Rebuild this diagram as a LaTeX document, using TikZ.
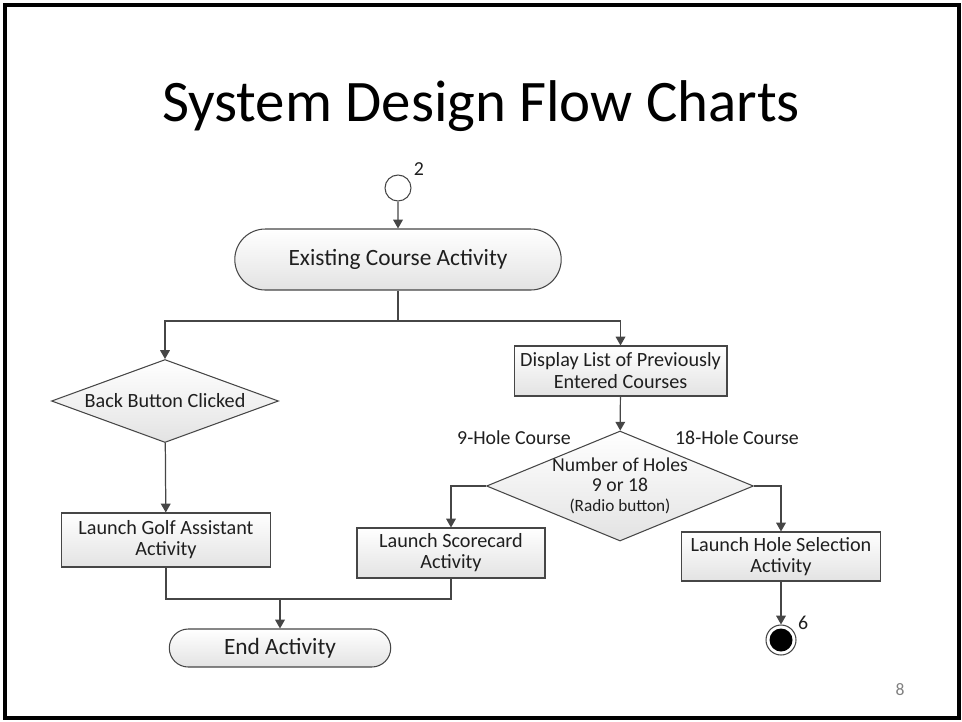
\documentclass[tikz,border=0pt]{standalone}
\usepackage{fontspec}
\setmainfont{Carlito}
\usetikzlibrary{arrows.meta,shapes.geometric,shapes.misc}

\tikzset{
  flow/.style={draw=gray!55!black, line width=0.7pt},
  arr/.style={flow,-{Triangle[length=5pt,width=5.5pt]}},
  shade/.style={draw=gray!55!black, line width=0.6pt, top color=white, bottom color=gray!22},
  boxtext/.style={text=black!88, align=center, font=\fontsize{11.5}{12}\selectfont},
  box/.style={shade, boxtext, rectangle, inner sep=1pt},
  term/.style={shade, boxtext, rounded rectangle, inner sep=1pt},
  decide/.style={shade, diamond, inner sep=0pt},
  lbl/.style={text=black!88, font=\fontsize{11.3}{13}\selectfont}
}

\begin{document}
\begin{tikzpicture}[x=0.02cm,y=-0.02cm]
  \useasboundingbox (0,0) rectangle (962,721);
  \draw[line width=1.8pt] (5,5) rectangle (959,718);

  % title
  \node[font=\fontsize{33.5}{38}\selectfont] (title) at (481,106) {System Design Flow Charts};

  % top of chart
  \node[draw=gray!55!black, line width=0.6pt, fill=white, circle, minimum size=0.52cm, inner sep=0pt] (start) at (398,188) {};
  \node[lbl, anchor=south west] (startno) at ([yshift=-2pt]start.north east) {2};
  \node[term, minimum width=6.6cm, minimum height=1.22cm, font=\fontsize{13.3}{15}\selectfont] (exist) at (398,259.5) {Existing Course Activity};
  \draw[arr] (start) -- (exist);
  \draw[flow] (exist.south) -- (398,321) coordinate (split);

  % left branch
  \node[decide, minimum width=4.54cm, minimum height=1.66cm] (back) at (165,401) {};
  \node[boxtext] (backtext) at (back.center) {Back Button Clicked};
  \node[box, minimum width=4.18cm, minimum height=1.08cm] (golf) at (166,540) {Launch Golf Assistant\\Activity};
  \draw[arr] (split) -| (back.north);
  \draw[arr] (back) -- (golf);

  % right branch
  \node[box, minimum width=4.26cm, minimum height=1.0cm, font=\fontsize{11.5}{12.5}\selectfont] (disp) at (620.5,371) {Display List of Previously\\Entered Courses};
  \node[decide, minimum width=5.34cm, minimum height=2.2cm] (holes) at (620,486) {};
  \node[boxtext, font=\fontsize{11.2}{11.3}\selectfont] (holestext) at (holes.center) {Number of Holes\\9 or 18\\{\fontsize{9.8}{11}\selectfont (Radio button)}};
  \node[lbl] (nine) at (514,438) {9-Hole Course};
  \node[lbl] (eighteen) at (737,438) {18-Hole Course};
  \draw[arr] (split) -| (disp.north);
  \draw[arr] (disp) -- (holes);

  \node[box, minimum width=3.76cm, minimum height=1.0cm] (score) at (451,553) {Launch Scorecard\\Activity};
  \node[box, minimum width=3.98cm, minimum height=0.98cm] (holesel) at (781,556.5) {Launch Hole Selection\\Activity};
  \draw[arr] (holes.west) -| (score.north);
  \draw[arr] (holes.east) -| (holesel.north);

  % end points
  \node[draw=gray!55!black, line width=0.6pt, fill=white, circle, minimum size=0.6cm, inner sep=0pt] (stop) at (781,640) {};
  \fill[black] (stop.center) circle (0.23cm);
  \node[lbl, anchor=south west] (stopno) at ([yshift=-4pt]stop.north east) {6};
  \draw[arr] (holesel) -- (stop);

  \node[term, minimum width=4.5cm, minimum height=0.76cm, font=\fontsize{13.3}{15}\selectfont] (endact) at (280,648) {End Activity};
  \draw[flow] (golf.south) |- (280,599) coordinate (join) -| (score.south);
  \draw[arr] (join) -- (endact.north);

  % page number
  \node[text=gray, font=\fontsize{10}{12}\selectfont] (page) at (900,690) {8};
\end{tikzpicture}
\end{document}
